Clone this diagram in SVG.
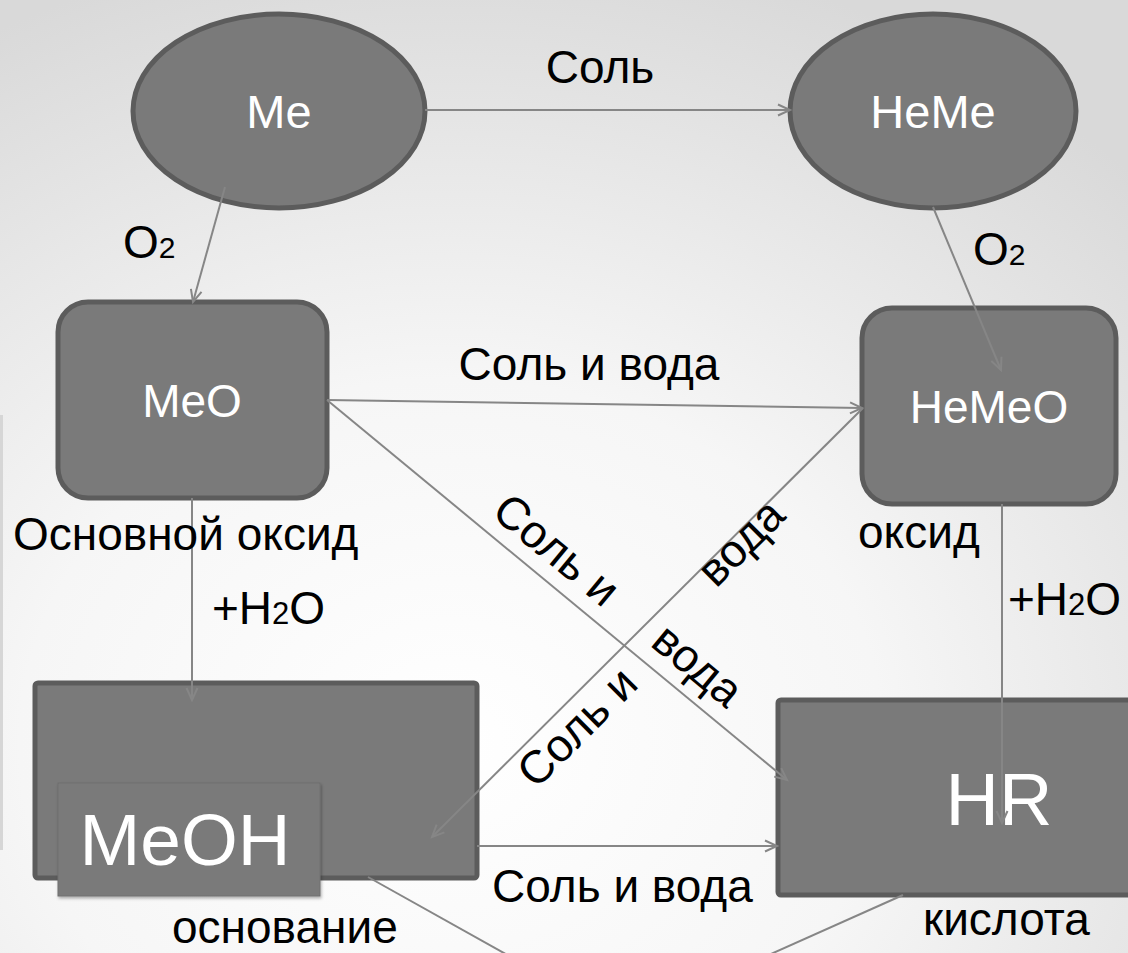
<svg xmlns="http://www.w3.org/2000/svg" width="1128" height="953" viewBox="0 0 1128 953">
<defs>
<radialGradient id="bg" cx="0.4" cy="0.78" r="0.85" gradientUnits="objectBoundingBox">
<stop offset="0" stop-color="#ffffff"/>
<stop offset="0.45" stop-color="#f6f6f6"/>
<stop offset="1" stop-color="#d9d9d9"/>
</radialGradient>
<marker id="arr" markerUnits="userSpaceOnUse" markerWidth="16" markerHeight="14" refX="13" refY="7" orient="auto">
<path d="M1,1.5 L13,7 L1,12.5" fill="none" stroke="#868686" stroke-width="2"/>
</marker>
<filter id="sh" x="-10%" y="-10%" width="125%" height="130%">
<feDropShadow dx="1" dy="2" stdDeviation="1.5" flood-color="#000" flood-opacity="0.3"/>
</filter>
</defs>
<style>
.node{fill:#7a7a7a;stroke:#5c5c5c;stroke-width:5}
.nt{fill:#ffffff;font-family:"Liberation Sans",Arial,sans-serif;text-anchor:middle}
.lbl{fill:#000000;font-family:"Liberation Sans",Arial,sans-serif;font-size:46px}
.c{fill:none;stroke:#868686;stroke-width:2}
.ca{fill:none;stroke:#868686;stroke-width:2;marker-end:url(#arr)}
</style>
<rect x="0" y="0" width="1128" height="953" fill="url(#bg)"/>
<rect x="0" y="415" width="3" height="435" fill="#d6d6d6"/>

<g id="node-me">
<ellipse class="node" cx="279" cy="111" rx="146" ry="97"/>
<text class="nt" x="279" y="128" font-size="47">Me</text>
</g>
<g id="node-heme">
<ellipse class="node" cx="933" cy="111" rx="143" ry="97"/>
<text class="nt" x="933" y="128" font-size="47">HeMe</text>
</g>
<g id="node-meo">
<rect class="node" x="58" y="302" width="269" height="196" rx="30" ry="30"/>
<text class="nt" x="192" y="417" font-size="46">MeO</text>
</g>
<g id="node-hemeo">
<rect class="node" x="862" y="308" width="254" height="196" rx="30" ry="30"/>
<text class="nt" x="989" y="423" font-size="46">HeMeO</text>
</g>
<g id="node-meoh">
<rect class="node" x="35" y="683" width="442" height="195" rx="3" ry="3"/>
<rect x="58" y="783" width="262" height="113" fill="#7a7a7a" stroke="#6e6e6e" stroke-width="1" filter="url(#sh)"/>
<text class="nt" x="185" y="865" font-size="73">MeOH</text>
</g>
<g id="node-hr">
<rect class="node" x="778" y="700" width="442" height="195" rx="3" ry="3"/>
<text class="nt" x="999" y="825" font-size="74">HR</text>
</g>

<g id="connectors">
<line class="ca" x1="425" y1="110" x2="790" y2="110"/>
<line class="ca" x1="225" y1="187" x2="193" y2="302"/>
<line class="ca" x1="933" y1="207" x2="1001" y2="370"/>
<line class="ca" x1="327" y1="400" x2="862" y2="408"/>
<line class="ca" x1="192" y1="498" x2="192" y2="700"/>
<line class="ca" x1="1002" y1="504" x2="1002" y2="823"/>
<line class="ca" x1="327" y1="400" x2="787" y2="780"/>
<line class="ca" x1="863" y1="408" x2="432" y2="837"/>
<line class="ca" x1="477" y1="846" x2="777" y2="846"/>
<line class="c" x1="368" y1="877" x2="520" y2="962"/>
<line class="c" x1="903" y1="895" x2="753" y2="962"/>
</g>

<g id="labels">
<text class="lbl" x="600" y="83" text-anchor="middle">Соль</text>
<text class="lbl" x="123" y="258" font-size="42">O<tspan font-size="30">2</tspan></text>
<text class="lbl" x="973" y="265" font-size="42">O<tspan font-size="30">2</tspan></text>
<text class="lbl" x="589" y="380" text-anchor="middle">Соль и вода</text>
<text class="lbl" x="13" y="550">Основной оксид</text>
<text class="lbl" x="212" y="624" font-size="45">+H<tspan font-size="31">2</tspan>O</text>
<text class="lbl" x="858" y="548">оксид</text>
<text class="lbl" x="1008" y="615" font-size="45">+H<tspan font-size="31">2</tspan>O</text>
<text class="lbl" x="492" y="902">Соль и вода</text>
<text class="lbl" x="172" y="943">основание</text>
<text class="lbl" x="923" y="935">кислота</text>
<text class="lbl" transform="translate(490 515) rotate(39.6)">Соль и</text>
<text class="lbl" transform="translate(649 645) rotate(39.6)">вода</text>
<text class="lbl" transform="translate(536 790) rotate(-44.9)">Соль и</text>
<text class="lbl" transform="translate(716 589) rotate(-44.9)">вода</text>
</g>
</svg>
